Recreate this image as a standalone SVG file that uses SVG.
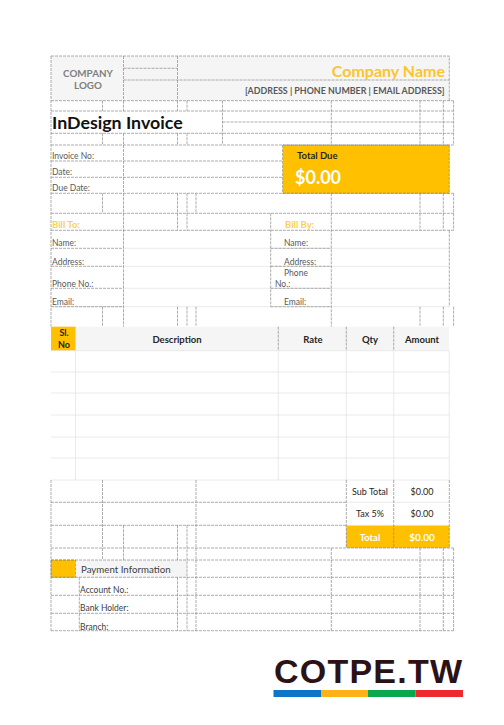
<svg xmlns="http://www.w3.org/2000/svg" width="504" height="725" viewBox="0 0 504 725">
<style>
text{font-family:Lato,"Liberation Sans",sans-serif;fill:#404040}
.d{stroke:#8a8a8a;stroke-width:.7;stroke-dasharray:3 1;fill:none}
.s{stroke:#e4e4e4;stroke-width:.8;fill:none}
.l{font-size:8.5px;fill:#595959}
.h{font-size:9.5px;font-weight:700;fill:#262626;text-anchor:middle}
.m{text-anchor:middle}
.y{fill:#fcc42e}
.t{font-size:9px;fill:#262626;text-anchor:middle}
.b{font-size:9.500px;font-weight:700;fill:#fcd050}
</style>
<rect width="504" height="725" fill="#fff"/>
<g id="fills">
<rect x="51" y="56" width="398" height="44.700" fill="#f5f5f5"/>
<rect x="282.700" y="145" width="166.600" height="48.300" fill="#ffc000"/>
<rect x="51" y="326.700" width="398" height="24" fill="#f5f5f5"/>
<rect x="51" y="326.700" width="24.500" height="24" fill="#ffc000"/>
<rect x="346.300" y="525.300" width="103" height="22.700" fill="#ffc000"/>
<rect x="51" y="560" width="24.500" height="17.300" fill="#ffc000"/>
<rect x="75.500" y="560" width="111.500" height="17.300" fill="#f5f5f5"/>
</g>
<g id="connectors">
<path class="s" d="M123.500 248.300H449M123.500 266.300H449M123.500 288.300H449M51 306.700H449M51 350.700H449M51 372H449M51 393H449M51 415H449M51 437H449M51 458H449M51 480H449M346.300 502.300H449M346.300 525.300H449M75.500 350.700V480M278.300 350.700V480M346.300 350.700V480M393.700 350.700V480M449.300 350.700V480"/>
<path class="d" d="M51 56H449.300V100.700M123.500 68.300H177.500M123.500 80H449.300M51 100.700H453.600M51 111H453.600M222.500 122H453.600M51 133.300H453.600M51 145H453.600M51 161H282.700M51 177.300H282.700M51 193.300H453.600M51 213.300H453.600M51 230.300H453.600M51 248.300H123.500M270.700 248.300H331.300M51 266.300H123.500M270.700 266.300H331.300M51 288.300H123.500M270.700 288.300H331.300M51 306.700H123.500M270.700 306.700H331.300M51 502.300H346.300M51 525.300H346.300M51 548H453.600M51 560H453.600M51 577.300H453.600M51 595.300H453.600M51 613.300H453.600M51 630.700H453.600"/>
<path class="d" d="M51 56V326.700M51 480V630.700M123.500 56V100.700M177.500 56V100.700"/>
<path class="d" d="M102.500 100.700V111M123.500 100.700V111M177.500 100.700V111M187 100.700V111M222.500 100.700V145M331.300 100.700V145M420 100.700V145M443.300 100.700V145M453.600 100.700V145M102.500 133.300V145M123.500 133.300V145M177.500 133.300V145M187 133.300V145M123.500 145V193.300"/>
<path class="d" d="M102.500 193.300V213.300M123.500 193.300V326.700M177.500 193.300V230.300M187 193.300V230.300M196 193.300V213.300M331.300 193.300V326.700M420 193.300V230.300M443.300 193.300V230.300M453.600 193.300V230.300M270.700 213.300V306.700M449.300 230.300V306.700"/>
<path class="d" d="M102.500 306.700V326.700M177.500 306.700V326.700M187 306.700V326.700M196 306.700V326.700M420 306.700V326.700M443.300 306.700V326.700M453.600 306.700V326.700"/>
<path class="d" d="M278.300 326.700V350.700M346.300 326.700V350.700M393.700 326.700V350.700"/>
<path class="d" d="M102.500 480V560M196 480V630.700M346.300 480V548M393.700 480V548M449.300 480V548M123.500 525.300V560M177.500 525.300V560M187 525.300V630.700M79.300 577.300V630.700M177.500 577.300V630.700M331.300 548V630.700M420 548V630.700M443.300 548V630.700M453.600 548V630.700"/>
<path class="d" d="M282.700 145V193.300H449.300V145ZM51 560H75.500V577.300H51Z"/>
</g>
<g id="header">
<text x="88" y="76.500" class="m" font-size="9.800" font-weight="700" style="fill:#7f7f7f">COMPANY</text>
<text x="88" y="89" class="m" font-size="9.800" font-weight="700" style="fill:#7f7f7f">LOGO</text>
<text x="445" y="76.500" text-anchor="end" font-size="16" font-weight="700" class="y">Company Name</text>
<text x="444.500" y="94" text-anchor="end" font-size="8.900" font-weight="700" style="fill:#595959">[ADDRESS | PHONE NUMBER | EMAIL ADDRESS]</text>
</g>
<g id="title"><text x="52" y="128.500" font-size="17.800" font-weight="700" style="fill:#111">InDesign Invoice</text></g>
<g id="invoice-info">
<text x="52" y="159" class="l">Invoice No:</text>
<text x="52" y="175" class="l">Date:</text>
<text x="52" y="191" class="l">Due Date:</text>
</g>
<g id="total-due">
<text x="297" y="159" font-size="9.500" font-weight="700" style="fill:#262626">Total Due</text>
<text x="295" y="184" font-size="18" font-weight="700" style="fill:#fff">$0.00</text>
</g>
<g id="bill-to">
<text x="52" y="228" class="b">Bill To:</text>
<text x="52" y="246" class="l">Name:</text>
<text x="52" y="265" class="l">Address:</text>
<text x="52" y="287" class="l">Phone No.:</text>
<text x="52" y="305" class="l">Email:</text>
</g>
<g id="bill-by">
<text x="285" y="228" class="b">Bill By:</text>
<text x="284" y="246" class="l">Name:</text>
<text x="284" y="265" class="l">Address:</text>
<text x="284" y="276" class="l">Phone</text>
<text x="275" y="287" class="l">No.:</text>
<text x="284" y="305" class="l">Email:</text>
</g>
<g id="table-head">
<text x="64" y="336" class="h" style="font-size:9px">Sl.</text>
<text x="64" y="348" class="h" style="font-size:9px">No</text>
<text x="177" y="343" class="h">Description</text>
<text x="313" y="343" class="h">Rate</text>
<text x="370" y="343" class="h">Qty</text>
<text x="422" y="343" class="h">Amount</text>
</g>
<g id="totals">
<text x="370" y="495" class="t">Sub Total</text>
<text x="422" y="495" class="t">$0.00</text>
<text x="370" y="517" class="t">Tax 5%</text>
<text x="422" y="517" class="t">$0.00</text>
<text x="370" y="541" class="t" font-weight="700" style="fill:#fff;font-size:9.500px">Total</text>
<text x="422" y="541" class="t" font-weight="700" style="fill:#fff;font-size:10px">$0.00</text>
</g>
<g id="payment">
<text x="81" y="572.500" font-size="9.700" style="fill:#404040">Payment Information</text>
<text x="80" y="593" class="l" style="fill:#404040">Account No.:</text>
<text x="80" y="611" class="l" style="fill:#404040">Bank Holder:</text>
<text x="80" y="630" class="l" style="fill:#404040">Branch:</text>
</g>
<g id="brand">
<text x="274" y="683" font-size="34" font-weight="700" textLength="188" lengthAdjust="spacing" style="fill:#2b1216;font-family:'Liberation Sans',sans-serif">COTPE.TW</text>
<rect x="273.500" y="690" width="47.500" height="7" fill="#0f75c9"/>
<rect x="321" y="690" width="47" height="7" fill="#fdb217"/>
<rect x="368" y="690" width="47.500" height="7" fill="#0aa650"/>
<rect x="415.500" y="690" width="47.500" height="7" fill="#ee2a30"/>
</g>
</svg>
